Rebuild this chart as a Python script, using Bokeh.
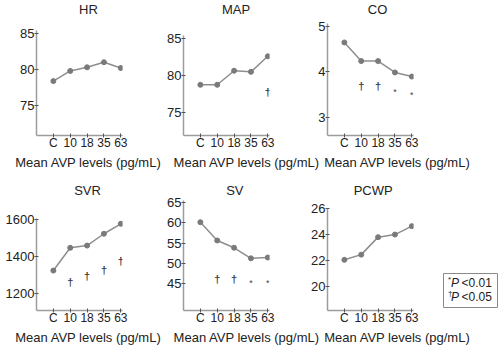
from bokeh.plotting import figure
from bokeh.models import Range1d, FixedTicker, ColumnDataSource
from bokeh.core.properties import value
from bokeh.embed import file_html
from bokeh.resources import INLINE

# ---------------- data ----------------
categories = ["C", "10", "18", "35", "63"]
x_axis_text = "Mean AVP levels (pg/mL)"

hr = [78.4, 79.8, 80.3, 81.0, 80.2]
map_vals = [78.8, 78.8, 80.7, 80.55, 82.65]
co = [4.65, 4.24, 4.24, 3.99, 3.90]
svr = [1325, 1448, 1460, 1524, 1578]
sv = [60.2, 55.7, 53.9, 51.3, 51.5]
pcwp = [22.05, 22.45, 23.8, 24.0, 24.65]

hr_ticks = [75, 80, 85]
map_ticks = [75, 80, 85]
co_ticks = [3, 4, 5]
svr_ticks = [1200, 1400, 1600]
sv_ticks = [45, 50, 55, 60, 65]
pcwp_ticks = [20, 22, 24, 26]

# significance markers
map_sig_cat = ["63"]
map_sig_y = [77.8]
map_sig_sym = ["†"]
co_sig_cat = ["10", "18", "35", "63"]
co_sig_y = [3.69, 3.69, 3.56, 3.49]
co_sig_sym = ["†", "†", "*", "*"]
svr_sig_cat = ["10", "18", "35", "63"]
svr_sig_y = [1262, 1298, 1329, 1379]
svr_sig_sym = ["†", "†", "†", "†"]
sv_sig_cat = ["10", "18", "35", "63"]
sv_sig_y = [46.1, 46.1, 45.1, 45.1]
sv_sig_sym = ["†", "†", "*", "*"]

legend_symbols = ["*", "†"]
legend_p = "P"
legend_thresholds = ["<0.01", "<0.05"]

# ---------------- style / layout ----------------
W, H = 500, 351
FONT = "Liberation Sans"
TXT = "#222222"
AXIS_C = "#9c9c9c"
LINE_C = "#8e8e8e"
PT_C = "#7a7a7a"
XR = (0, 5.1)
FRAME_W = 86

# frame placement (px) and text anchor positions (px, y measured from top)
panels = [
    dict(title="HR", vals=hr, ticks=hr_ticks, yr=(70.92, 85.36), left=36, top=30, bottom=135,
         title_xy=(88, 8.7), xlab_xy=(88, 161.5), sig=None),
    dict(title="MAP", vals=map_vals, ticks=map_ticks, yr=(71.95, 85.46), left=183, top=35, bottom=135,
         title_xy=(235.5, 8.7), xlab_xy=(246.3, 161.5), sig=(map_sig_cat, map_sig_y, map_sig_sym)),
    dict(title="CO", vals=co, ticks=co_ticks, yr=(2.604, 5.066), left=327, top=23, bottom=135,
         title_xy=(377, 8.7), xlab_xy=(397, 161.5), sig=(co_sig_cat, co_sig_y, co_sig_sym)),
    dict(title="SVR", vals=svr, ticks=svr_ticks, yr=(1109, 1606.5), left=36, top=218, bottom=310,
         title_xy=(87, 190), xlab_xy=(88, 337), sig=(svr_sig_cat, svr_sig_y, svr_sig_sym)),
    dict(title="SV", vals=sv, ticks=sv_ticks, yr=(38.45, 65.54), left=183, top=200, bottom=310,
         title_xy=(234.3, 190), xlab_xy=(246.3, 337), sig=(sv_sig_cat, sv_sig_y, sv_sig_sym)),
    dict(title="PCWP", vals=pcwp, ticks=pcwp_ticks, yr=(18.14, 26.01), left=327, top=208, bottom=310,
         title_xy=(372.7, 190), xlab_xy=(397, 337), sig=None),
]

cat_pos = {c: i + 1 for i, c in enumerate(categories)}
overrides = {i + 1: c for i, c in enumerate(categories)}


def base_fig(left, right, top, bottom, xr, yr, **kw):
    return figure(width=W, height=H, x_range=Range1d(*xr), y_range=Range1d(*yr),
                  min_border_left=left, min_border_right=right,
                  min_border_top=top, min_border_bottom=bottom,
                  output_backend="svg", toolbar_location=None,
                  background_fill_color=None, border_fill_color=None, **kw)


figs = []
for k, pn in enumerate(panels):
    p = base_fig(pn["left"], W - pn["left"] - FRAME_W, pn["top"], H - pn["bottom"],
                 XR, pn["yr"], outline_line_color=None)
    p.grid.visible = False
    for ax in (p.xaxis[0], p.yaxis[0]):
        ax.axis_line_color = AXIS_C
        ax.axis_line_width = 1.5
        ax.major_tick_line_color = "#555555"
        ax.major_tick_in = 2
        ax.major_tick_out = 2
        ax.minor_tick_line_color = None
        ax.major_label_text_font = FONT
        ax.major_label_text_color = TXT
    p.xaxis.ticker = FixedTicker(ticks=list(overrides.keys()))
    p.xaxis.major_label_overrides = overrides
    p.xaxis.major_label_text_font_size = "12px"
    p.xaxis.major_label_standoff = -2
    p.yaxis.ticker = FixedTicker(ticks=pn["ticks"])
    p.yaxis.major_label_text_font_size = "13px"
    p.yaxis.major_label_standoff = 0

    xs = [cat_pos[c] for c in categories]
    p.line(xs, pn["vals"], line_color=LINE_C, line_width=1.5)
    p.scatter(xs, pn["vals"], size=5, fill_color=PT_C, line_color=PT_C)

    if pn["sig"] is not None:
        cats, ys, syms = pn["sig"]
        for sym, fs, st in (("†", "11px", "bold"), ("*", "9px", "normal")):
            src = ColumnDataSource(dict(
                x=[cat_pos[c] for c, s in zip(cats, syms) if s == sym],
                y=[y for y, s in zip(ys, syms) if s == sym],
                t=[s for s in syms if s == sym]))
            p.text(x="x", y="y", text="t", source=src, text_font=value(FONT),
                   text_font_size=value(fs), text_font_style=st, text_color="#444444",
                   text_align="center", text_baseline="middle")
    if k > 0:
        p.margin = (-H, 0, 0, 0)
    figs.append(p)

# ---------------- significance key box ----------------
BOX = dict(left=443, right=497, top=273, bottom=307)
lg = base_fig(BOX["left"], W - BOX["right"], BOX["top"], H - BOX["bottom"], (0, 1), (0, 1),
              x_axis_location=None, y_axis_location=None,
              outline_line_color="#8a8a8a", outline_line_width=1)
lg.grid.visible = False
lg.margin = (-H, 0, 0, 0)
figs.append(lg)

# ---------------- text overlay (titles, axis texts, key texts) in page pixels ----------------
ov = base_fig(0, 0, 0, 0, (0, W), (H, 0), x_axis_location=None, y_axis_location=None,
              outline_line_color=None)
ov.grid.visible = False
ov.margin = (-H, 0, 0, 0)

tsrc = ColumnDataSource(dict(
    x=[pn["title_xy"][0] for pn in panels] + [pn["xlab_xy"][0] for pn in panels],
    y=[pn["title_xy"][1] for pn in panels] + [pn["xlab_xy"][1] for pn in panels],
    t=[pn["title"] for pn in panels] + [x_axis_text] * len(panels)))
ov.text(x="x", y="y", text="t", source=tsrc, text_font=value(FONT), text_font_size=value("13px"),
        text_color=TXT, text_align="center", text_baseline="middle")

for i, (sym, thr) in enumerate(zip(legend_symbols, legend_thresholds)):
    cy = 282 + i * 14
    ov.text(x=[447.5], y=[cy - 3], text=[sym], text_font=value(FONT), text_font_size=value("8px"),
            text_color=TXT, text_align="left", text_baseline="middle")
    ov.text(x=[450.5], y=[cy], text=[legend_p], text_font=value(FONT), text_font_size=value("12px"),
            text_font_style="italic", text_color=TXT, text_align="left", text_baseline="middle")
    ov.text(x=[461], y=[cy], text=[thr], text_font=value(FONT), text_font_size=value("12px"),
            text_color=TXT, text_align="left", text_baseline="middle")
figs.append(ov)

open("out.html", "w").write(file_html(figs, INLINE))
